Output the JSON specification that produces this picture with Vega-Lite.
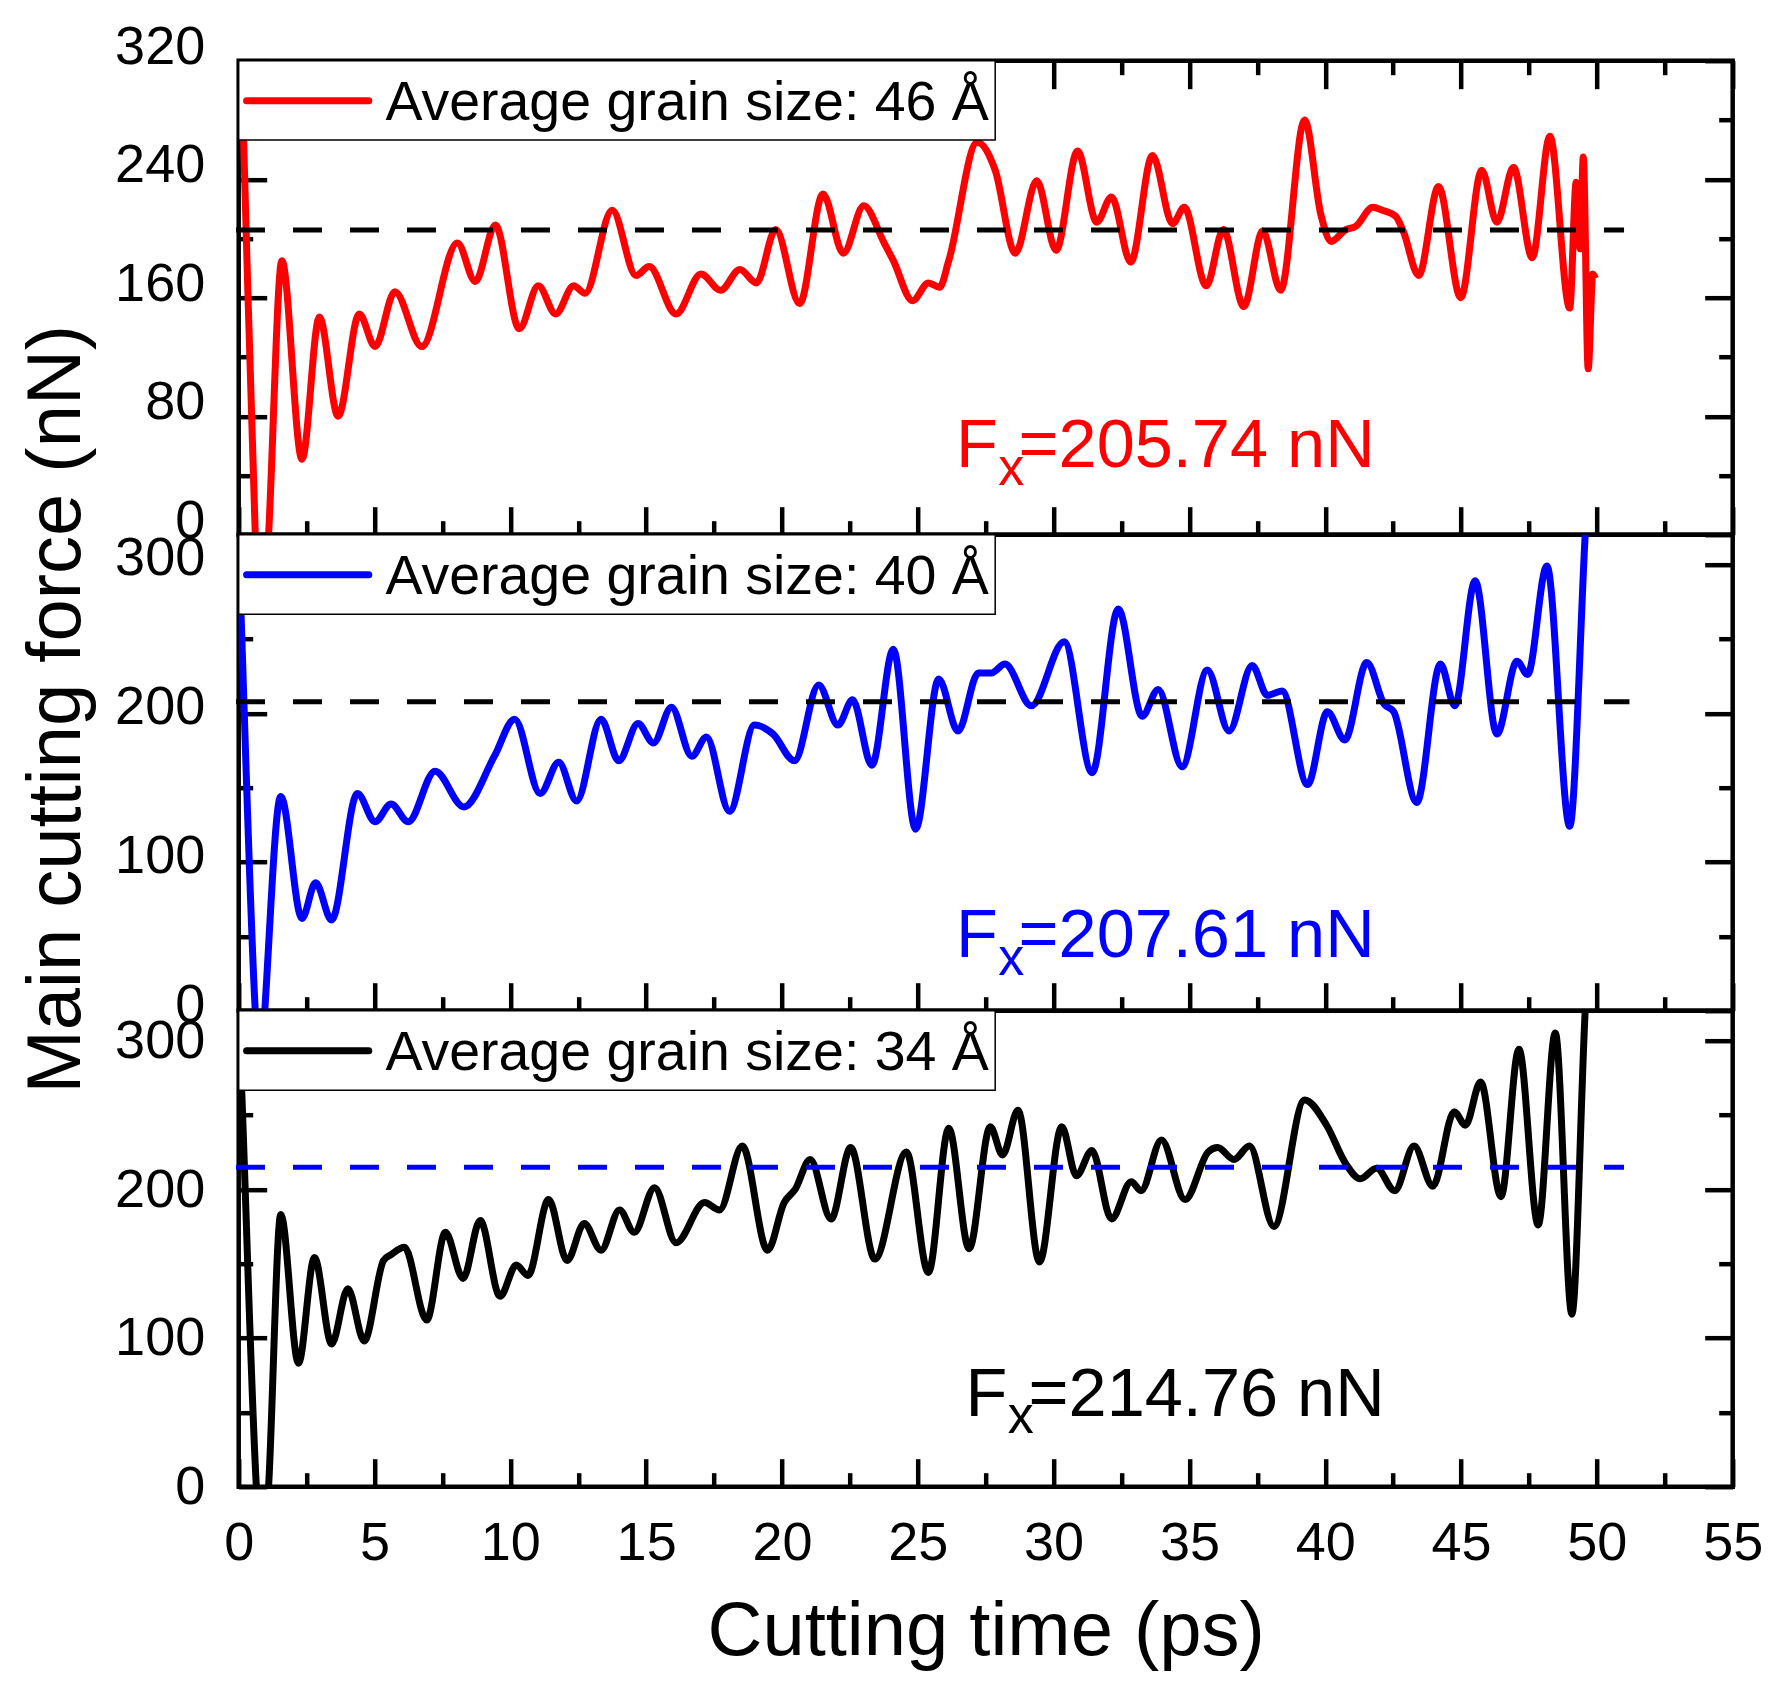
{
  "$schema": "https://vega.github.io/schema/vega-lite/v6.json",
  "background": "white",
  "padding": {"left": 15.7, "top": 17.7, "right": 5, "bottom": 5},
  "spacing": 0,
  "bounds": "flush",
  "config": {
    "view": {"stroke": "black", "strokeWidth": 4.5},
    "font": "Liberation Sans",
    "axis": {"zindex": 0, "domain": false, "grid": false, "tickColor": "black", "tickWidth": 4.5, "labelColor": "black", "titleColor": "black", "labelFont": "Liberation Sans", "titleFont": "Liberation Sans", "labelFontSize": 54, "titleFontSize": 76, "titleFontWeight": "normal", "labelFlush": false, "labelOverlap": false}
  },
  "datasets": {
    "g46": [
      {"t":0.0,"force":375},{"t":0.18,"force":267},{"t":0.61,"force":0},{"t":0.85,"force":-80},{"t":1.1,"force":0},{"t":1.59,"force":185},{"t":2.33,"force":51},{"t":2.97,"force":147},{"t":3.66,"force":80},{"t":4.44,"force":149},{"t":5.02,"force":127},{"t":5.75,"force":164},{"t":6.74,"force":127},{"t":8.05,"force":197},{"t":8.71,"force":171},{"t":9.45,"force":209},{"t":10.33,"force":139},{"t":11.03,"force":168},{"t":11.67,"force":149},{"t":12.33,"force":168},{"t":12.75,"force":163},{"t":13.75,"force":219},{"t":14.63,"force":175},{"t":15.11,"force":181},{"t":16.1,"force":149},{"t":17.02,"force":176},{"t":17.74,"force":165},{"t":18.45,"force":179},{"t":19.06,"force":170},{"t":19.77,"force":206},{"t":20.65,"force":156},{"t":21.51,"force":230},{"t":22.26,"force":190},{"t":23.01,"force":222},{"t":23.76,"force":197},{"t":24.1,"force":185},{"t":24.81,"force":158},{"t":25.39,"force":170},{"t":25.8,"force":167},{"t":26.14,"force":185},{"t":27.19,"force":265},{"t":27.85,"force":246},{"t":28.59,"force":190},{"t":29.38,"force":239},{"t":30.09,"force":192},{"t":30.88,"force":259},{"t":31.59,"force":211},{"t":32.13,"force":228},{"t":32.84,"force":184},{"t":33.64,"force":256},{"t":34.38,"force":210},{"t":34.81,"force":221},{"t":35.62,"force":168},{"t":36.25,"force":206},{"t":37.0,"force":154},{"t":37.7,"force":205},{"t":38.36,"force":165},{"t":39.24,"force":280},{"t":39.84,"force":216},{"t":40.22,"force":198},{"t":40.76,"force":206},{"t":41.11,"force":208},{"t":41.75,"force":221},{"t":42.1,"force":219},{"t":42.59,"force":215},{"t":42.87,"force":205},{"t":43.44,"force":175},{"t":44.17,"force":235},{"t":44.99,"force":160},{"t":45.76,"force":246},{"t":46.32,"force":211},{"t":46.93,"force":248},{"t":47.62,"force":187},{"t":48.27,"force":269},{"t":49.0,"force":153},{"t":49.24,"force":238},{"t":49.38,"force":193},{"t":49.5,"force":255},{"t":49.68,"force":112},{"t":49.85,"force":176},{"t":49.95,"force":173}
    ],
    "g40": [
      {"t":0.0,"force":315},{"t":0.09,"force":265},{"t":0.61,"force":0},{"t":0.79,"force":-50},{"t":0.96,"force":0},{"t":1.55,"force":144},{"t":2.33,"force":62},{"t":2.83,"force":86},{"t":3.42,"force":61},{"t":4.37,"force":146},{"t":5.02,"force":127},{"t":5.61,"force":139},{"t":6.24,"force":127},{"t":7.23,"force":161},{"t":8.29,"force":137},{"t":9.41,"force":171},{"t":10.16,"force":196},{"t":11.1,"force":146},{"t":11.78,"force":167},{"t":12.44,"force":141},{"t":13.34,"force":196},{"t":13.99,"force":168},{"t":14.7,"force":193},{"t":15.27,"force":180},{"t":15.93,"force":204},{"t":16.68,"force":171},{"t":17.22,"force":184},{"t":18.07,"force":134},{"t":18.99,"force":192},{"t":19.67,"force":186},{"t":20.46,"force":168},{"t":21.35,"force":219},{"t":22.06,"force":192},{"t":22.6,"force":209},{"t":23.31,"force":165},{"t":24.1,"force":243},{"t":24.92,"force":122},{"t":25.77,"force":223},{"t":26.48,"force":188},{"t":27.23,"force":227},{"t":27.71,"force":227},{"t":28.21,"force":233},{"t":29.18,"force":205},{"t":30.39,"force":248},{"t":31.42,"force":160},{"t":32.38,"force":270},{"t":33.26,"force":198},{"t":33.85,"force":216},{"t":34.73,"force":164},{"t":35.66,"force":229},{"t":36.46,"force":188},{"t":37.31,"force":232},{"t":37.87,"force":212},{"t":38.41,"force":215},{"t":39.35,"force":152},{"t":40.08,"force":201},{"t":40.72,"force":182},{"t":41.53,"force":234},{"t":42.17,"force":206},{"t":42.52,"force":201},{"t":43.37,"force":140},{"t":44.24,"force":233},{"t":44.77,"force":205},{"t":45.52,"force":289},{"t":46.32,"force":186},{"t":47.06,"force":235},{"t":47.45,"force":226},{"t":48.16,"force":299},{"t":49.0,"force":124},{"t":49.57,"force":320},{"t":49.75,"force":380}
    ],
    "g34": [
      {"t":0.0,"force":320},{"t":0.11,"force":267},{"t":0.65,"force":0},{"t":0.88,"force":-60},{"t":1.1,"force":0},{"t":1.55,"force":183},{"t":2.2,"force":83},{"t":2.79,"force":154},{"t":3.42,"force":96},{"t":4.02,"force":133},{"t":4.62,"force":98},{"t":5.33,"force":152},{"t":5.61,"force":156},{"t":6.1,"force":161},{"t":6.92,"force":112},{"t":7.61,"force":171},{"t":8.26,"force":140},{"t":8.89,"force":179},{"t":9.62,"force":128},{"t":10.22,"force":149},{"t":10.65,"force":142},{"t":11.41,"force":193},{"t":12.09,"force":152},{"t":12.72,"force":177},{"t":13.34,"force":159},{"t":14.02,"force":186},{"t":14.56,"force":171},{"t":15.31,"force":201},{"t":16.1,"force":164},{"t":17.15,"force":191},{"t":17.7,"force":186},{"t":18.54,"force":229},{"t":19.47,"force":159},{"t":20.08,"force":191},{"t":20.49,"force":200},{"t":21.04,"force":220},{"t":21.81,"force":180},{"t":22.53,"force":228},{"t":23.42,"force":153},{"t":24.58,"force":225},{"t":25.39,"force":144},{"t":26.14,"force":241},{"t":26.89,"force":160},{"t":27.67,"force":242},{"t":28.12,"force":223},{"t":28.69,"force":253},{"t":29.48,"force":151},{"t":30.3,"force":242},{"t":30.84,"force":209},{"t":31.41,"force":226},{"t":32.13,"force":180},{"t":32.86,"force":205},{"t":33.22,"force":199},{"t":33.97,"force":233},{"t":34.84,"force":193},{"t":35.69,"force":225},{"t":36.04,"force":228},{"t":36.64,"force":220},{"t":37.21,"force":229},{"t":38.11,"force":175},{"t":39.24,"force":260},{"t":40.05,"force":243},{"t":40.76,"force":217},{"t":41.29,"force":207},{"t":41.89,"force":214},{"t":42.56,"force":199},{"t":43.27,"force":229},{"t":43.96,"force":202},{"t":44.75,"force":252},{"t":45.16,"force":243},{"t":45.72,"force":272},{"t":46.47,"force":195},{"t":47.13,"force":294},{"t":47.84,"force":176},{"t":48.47,"force":305},{"t":49.08,"force":116},{"t":49.57,"force":320},{"t":49.75,"force":380}
    ],
    "info46": [{"mean": 205.74, "legend": "Average grain size: 46 Å", "fx": "=205.74 nN"}],
    "info40": [{"mean": 207.61, "legend": "Average grain size: 40 Å", "fx": "=207.61 nN"}],
    "info34": [{"mean": 214.76, "legend": "Average grain size: 34 Å", "fx": "=214.76 nN"}]
  },
  "vconcat": [
    {
      "width": 1494, "height": 474,
      "resolve": {"axis": {"x": "independent", "y": "independent"}},
      "layer": [
        {
          "data": {"name": "g46"},
          "mark": {"type": "line", "color": "#ff0000", "strokeWidth": 7, "interpolate": "monotone", "clip": true},
          "encoding": {
            "x": {"field": "t", "type": "quantitative", "scale": {"domain": [0, 55], "nice": false, "zero": false},
                  "axis": {"orient": "bottom", "values": [0,5,10,15,20,25,30,35,40,45,50,55], "tickSize": -28, "labels": false, "title": null}},
            "y": {"field": "force", "type": "quantitative", "scale": {"domain": [0, 320], "nice": false, "zero": false},
                  "axis": {"orient": "left", "values": [0,80,160,240,320], "tickSize": -28, "labelPadding": 62, "labelOffset": -13.5, "title": null}}
          }
        },
        {
          "data": {"name": "info46"},
          "mark": {"type": "rule", "color": "black", "strokeWidth": 5, "strokeDash": [29, 28]},
          "encoding": {
            "x": {"datum": -0.1, "type": "quantitative", "scale": {"domain": [0, 55], "nice": false, "zero": false},
                  "axis": {"orient": "bottom", "values": [2.5,7.5,12.5,17.5,22.5,27.5,32.5,37.5,42.5,47.5,52.5], "tickSize": -14, "labels": false, "title": null}},
            "x2": {"datum": 51.0},
            "y": {"field": "mean", "type": "quantitative", "scale": {"domain": [0, 320], "nice": false, "zero": false},
                  "axis": {"orient": "left", "values": [40,120,200,280], "tickSize": -14, "labels": false, "title": null}}
          }
        },
        {
          "data": {"name": "info46"},
          "mark": {"type": "rect", "fill": "white", "stroke": "black", "strokeWidth": 1.5},
          "encoding": {
            "x": {"datum": 0, "type": "quantitative", "scale": {"domain": [0, 55], "nice": false, "zero": false},
                  "axis": {"orient": "top", "values": [0,5,10,15,20,25,30,35,40,45,50,55], "tickSize": -28, "labels": false, "title": null}},
            "x2": {"datum": 27.85},
            "y": {"datum": 320, "type": "quantitative", "scale": {"domain": [0, 320], "nice": false, "zero": false},
                  "axis": {"orient": "right", "values": [0,80,160,240,320], "tickSize": -28, "labels": false, "title": null}},
            "y2": {"datum": 266.5}
          }
        },
        {
          "data": {"name": "info46"},
          "mark": {"type": "rule", "color": "#ff0000", "strokeWidth": 7, "strokeCap": "round"},
          "encoding": {
            "x": {"datum": 0.29, "type": "quantitative", "scale": {"domain": [0, 55], "nice": false, "zero": false},
                  "axis": {"orient": "top", "values": [2.5,7.5,12.5,17.5,22.5,27.5,32.5,37.5,42.5,47.5,52.5], "tickSize": -14, "labels": false, "title": null}},
            "x2": {"datum": 4.79},
            "y": {"datum": 293, "type": "quantitative", "scale": {"domain": [0, 320], "nice": false, "zero": false},
                  "axis": {"orient": "right", "values": [40,120,200,280], "tickSize": -14, "labels": false, "title": null}}
          }
        },
        {
          "data": {"name": "info46"},
          "mark": {"type": "text", "align": "left", "baseline": "alphabetic", "fontSize": 55.5, "color": "black", "font": "Liberation Sans"},
          "encoding": {
            "x": {"datum": 5.4, "type": "quantitative", "axis": null},
            "y": {"datum": 280, "type": "quantitative", "axis": null},
            "text": {"field": "legend"}
          }
        },
        {
          "data": {"name": "info46"},
          "mark": {"type": "text", "align": "left", "baseline": "alphabetic", "fontSize": 68.5, "color": "#ff0000", "font": "Liberation Sans"},
          "encoding": {
            "x": {"datum": 26.41, "type": "quantitative", "axis": null},
            "y": {"datum": 45.9, "type": "quantitative", "axis": null},
            "text": {"value": "F"}
          }
        },
        {
          "data": {"name": "info46"},
          "mark": {"type": "text", "align": "left", "baseline": "alphabetic", "fontSize": 52, "color": "#ff0000", "font": "Liberation Sans"},
          "encoding": {
            "x": {"datum": 27.96, "type": "quantitative", "axis": null},
            "y": {"datum": 33.8, "type": "quantitative", "axis": null},
            "text": {"value": "x"}
          }
        },
        {
          "data": {"name": "info46"},
          "mark": {"type": "text", "align": "left", "baseline": "alphabetic", "fontSize": 68.5, "color": "#ff0000", "font": "Liberation Sans"},
          "encoding": {
            "x": {"datum": 28.71, "type": "quantitative", "axis": null},
            "y": {"datum": 45.9, "type": "quantitative", "axis": null},
            "text": {"field": "fx"}
          }
        }
      ]
    },
    {
      "width": 1494, "height": 476,
      "resolve": {"axis": {"x": "independent", "y": "independent"}},
      "layer": [
        {
          "data": {"name": "g40"},
          "mark": {"type": "line", "color": "#0000ff", "strokeWidth": 7, "interpolate": "monotone", "clip": true},
          "encoding": {
            "x": {"field": "t", "type": "quantitative", "scale": {"domain": [0, 55], "nice": false, "zero": false},
                  "axis": {"orient": "bottom", "values": [0,5,10,15,20,25,30,35,40,45,50,55], "tickSize": -28, "labels": false, "title": null}},
            "y": {"field": "force", "type": "quantitative", "scale": {"domain": [0, 320], "nice": false, "zero": false},
                  "axis": {"orient": "left", "values": [0,100,200,300], "tickSize": -28, "labelPadding": 62, "labelOffset": -5.5,
                           "title": "Main cutting force (nN)", "titleX": -159.5, "titleY": 174, "titleAngle": -90, "titleAlign": "center", "titleBaseline": "alphabetic"}}
          }
        },
        {
          "data": {"name": "info40"},
          "mark": {"type": "rule", "color": "black", "strokeWidth": 5, "strokeDash": [29, 28]},
          "encoding": {
            "x": {"datum": -0.1, "type": "quantitative", "scale": {"domain": [0, 55], "nice": false, "zero": false},
                  "axis": {"orient": "bottom", "values": [2.5,7.5,12.5,17.5,22.5,27.5,32.5,37.5,42.5,47.5,52.5], "tickSize": -14, "labels": false, "title": null}},
            "x2": {"datum": 51.2},
            "y": {"field": "mean", "type": "quantitative", "scale": {"domain": [0, 320], "nice": false, "zero": false},
                  "axis": {"orient": "left", "values": [50,150,250], "tickSize": -14, "labels": false, "title": null}}
          }
        },
        {
          "data": {"name": "info40"},
          "mark": {"type": "rect", "fill": "white", "stroke": "black", "strokeWidth": 1.5},
          "encoding": {
            "x": {"datum": 0, "type": "quantitative", "scale": {"domain": [0, 55], "nice": false, "zero": false}, "axis": null},
            "x2": {"datum": 27.85},
            "y": {"datum": 320, "type": "quantitative", "scale": {"domain": [0, 320], "nice": false, "zero": false},
                  "axis": {"orient": "right", "values": [0,100,200,300], "tickSize": -28, "labels": false, "title": null}},
            "y2": {"datum": 266.5}
          }
        },
        {
          "data": {"name": "info40"},
          "mark": {"type": "rule", "color": "#0000ff", "strokeWidth": 7, "strokeCap": "round"},
          "encoding": {
            "x": {"datum": 0.29, "type": "quantitative", "scale": {"domain": [0, 55], "nice": false, "zero": false}, "axis": null},
            "x2": {"datum": 4.79},
            "y": {"datum": 293, "type": "quantitative", "scale": {"domain": [0, 320], "nice": false, "zero": false},
                  "axis": {"orient": "right", "values": [50,150,250], "tickSize": -14, "labels": false, "title": null}}
          }
        },
        {
          "data": {"name": "info40"},
          "mark": {"type": "text", "align": "left", "baseline": "alphabetic", "fontSize": 55.5, "color": "black", "font": "Liberation Sans"},
          "encoding": {
            "x": {"datum": 5.4, "type": "quantitative", "axis": null},
            "y": {"datum": 280, "type": "quantitative", "axis": null},
            "text": {"field": "legend"}
          }
        },
        {
          "data": {"name": "info40"},
          "mark": {"type": "text", "align": "left", "baseline": "alphabetic", "fontSize": 68.5, "color": "#0000ff", "font": "Liberation Sans"},
          "encoding": {
            "x": {"datum": 26.41, "type": "quantitative", "axis": null},
            "y": {"datum": 35.8, "type": "quantitative", "axis": null},
            "text": {"value": "F"}
          }
        },
        {
          "data": {"name": "info40"},
          "mark": {"type": "text", "align": "left", "baseline": "alphabetic", "fontSize": 52, "color": "#0000ff", "font": "Liberation Sans"},
          "encoding": {
            "x": {"datum": 27.96, "type": "quantitative", "axis": null},
            "y": {"datum": 23.7, "type": "quantitative", "axis": null},
            "text": {"value": "x"}
          }
        },
        {
          "data": {"name": "info40"},
          "mark": {"type": "text", "align": "left", "baseline": "alphabetic", "fontSize": 68.5, "color": "#0000ff", "font": "Liberation Sans"},
          "encoding": {
            "x": {"datum": 28.71, "type": "quantitative", "axis": null},
            "y": {"datum": 35.8, "type": "quantitative", "axis": null},
            "text": {"field": "fx"}
          }
        }
      ]
    },
    {
      "width": 1494, "height": 476,
      "resolve": {"axis": {"x": "independent", "y": "independent"}},
      "layer": [
        {
          "data": {"name": "g34"},
          "mark": {"type": "line", "color": "black", "strokeWidth": 7, "interpolate": "monotone", "clip": true},
          "encoding": {
            "x": {"field": "t", "type": "quantitative", "scale": {"domain": [0, 55], "nice": false, "zero": false},
                  "axis": {"orient": "bottom", "values": [0,5,10,15,20,25,30,35,40,45,50,55], "tickSize": -28, "labels": true, "labelPadding": 58,
                           "title": "Cutting time (ps)", "titleY": 168, "titleBaseline": "alphabetic", "titleAlign": "center"}},
            "y": {"field": "force", "type": "quantitative", "scale": {"domain": [0, 320], "nice": false, "zero": false},
                  "axis": {"orient": "left", "values": [0,100,200,300], "tickSize": -28, "labelPadding": 62, "labelOffset": 1, "title": null}}
          }
        },
        {
          "data": {"name": "info34"},
          "mark": {"type": "rule", "color": "#0000ff", "strokeWidth": 5, "strokeDash": [29, 28]},
          "encoding": {
            "x": {"datum": -0.1, "type": "quantitative", "scale": {"domain": [0, 55], "nice": false, "zero": false},
                  "axis": {"orient": "bottom", "values": [2.5,7.5,12.5,17.5,22.5,27.5,32.5,37.5,42.5,47.5,52.5], "tickSize": -14, "labels": false, "title": null}},
            "x2": {"datum": 51.0},
            "y": {"field": "mean", "type": "quantitative", "scale": {"domain": [0, 320], "nice": false, "zero": false},
                  "axis": {"orient": "left", "values": [50,150,250], "tickSize": -14, "labels": false, "title": null}}
          }
        },
        {
          "data": {"name": "info34"},
          "mark": {"type": "rect", "fill": "white", "stroke": "black", "strokeWidth": 1.5},
          "encoding": {
            "x": {"datum": 0, "type": "quantitative", "scale": {"domain": [0, 55], "nice": false, "zero": false}, "axis": null},
            "x2": {"datum": 27.85},
            "y": {"datum": 320, "type": "quantitative", "scale": {"domain": [0, 320], "nice": false, "zero": false},
                  "axis": {"orient": "right", "values": [0,100,200,300], "tickSize": -28, "labels": false, "title": null}},
            "y2": {"datum": 266.5}
          }
        },
        {
          "data": {"name": "info34"},
          "mark": {"type": "rule", "color": "black", "strokeWidth": 7, "strokeCap": "round"},
          "encoding": {
            "x": {"datum": 0.29, "type": "quantitative", "scale": {"domain": [0, 55], "nice": false, "zero": false}, "axis": null},
            "x2": {"datum": 4.79},
            "y": {"datum": 293, "type": "quantitative", "scale": {"domain": [0, 320], "nice": false, "zero": false},
                  "axis": {"orient": "right", "values": [50,150,250], "tickSize": -14, "labels": false, "title": null}}
          }
        },
        {
          "data": {"name": "info34"},
          "mark": {"type": "text", "align": "left", "baseline": "alphabetic", "fontSize": 55.5, "color": "black", "font": "Liberation Sans"},
          "encoding": {
            "x": {"datum": 5.4, "type": "quantitative", "axis": null},
            "y": {"datum": 280, "type": "quantitative", "axis": null},
            "text": {"field": "legend"}
          }
        },
        {
          "data": {"name": "info34"},
          "mark": {"type": "text", "align": "left", "baseline": "alphabetic", "fontSize": 68.5, "color": "black", "font": "Liberation Sans"},
          "encoding": {
            "x": {"datum": 26.76, "type": "quantitative", "axis": null},
            "y": {"datum": 47.7, "type": "quantitative", "axis": null},
            "text": {"value": "F"}
          }
        },
        {
          "data": {"name": "info34"},
          "mark": {"type": "text", "align": "left", "baseline": "alphabetic", "fontSize": 52, "color": "black", "font": "Liberation Sans"},
          "encoding": {
            "x": {"datum": 28.31, "type": "quantitative", "axis": null},
            "y": {"datum": 35.8, "type": "quantitative", "axis": null},
            "text": {"value": "x"}
          }
        },
        {
          "data": {"name": "info34"},
          "mark": {"type": "text", "align": "left", "baseline": "alphabetic", "fontSize": 68.5, "color": "black", "font": "Liberation Sans"},
          "encoding": {
            "x": {"datum": 29.08, "type": "quantitative", "axis": null},
            "y": {"datum": 47.7, "type": "quantitative", "axis": null},
            "text": {"field": "fx"}
          }
        }
      ]
    }
  ]
}
